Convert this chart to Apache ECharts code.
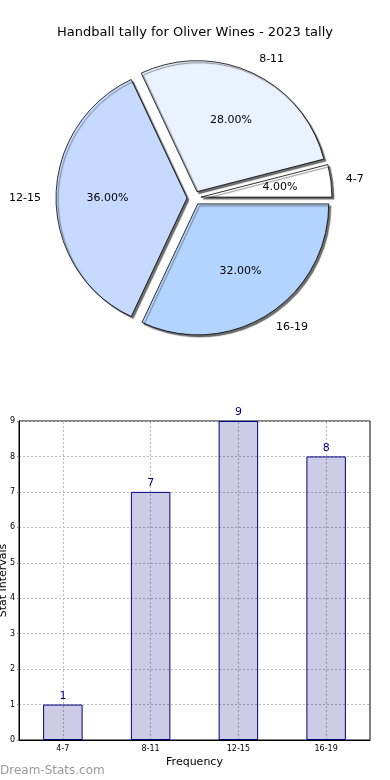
<!DOCTYPE html>
<html><head><meta charset="utf-8">
<script src="https://cdn.jsdelivr.net/npm/echarts@6/dist/echarts.min.js"></script>
<style>html,body{margin:0;padding:0;background:#fff}#c{width:390px;height:780px}</style>
</head><body><div id="c"></div>
<script>
const categories = ['4-7', '8-11', '12-15', '16-19'];
const values = [1, 7, 9, 8];
const sliceColors = ['#ffffff', '#eaf2ff', '#c6d9ff', '#b3d4ff'];
const yTicks = [0, 1, 2, 3, 4, 5, 6, 7, 8, 9];
const titleText = 'Handball tally for Oliver Wines - 2023 tally';

const FONT = 'DejaVu Sans';
const chart = echarts.init(document.getElementById('c'), null, {renderer: 'canvas'});
const pieCenter = [194, 198];
const R = 131, EXPLODE = 7;

const pieData = categories.map((c, i) => ({name: c, value: values[i], selected: true,
  itemStyle: {color: sliceColors[i]}}));
const ringData = categories.map((c, i) => ({name: c, value: values[i]}));
const pctMid = R * 0.6 + EXPLODE - 2;

chart.setOption({
  animation: false,
  title: {text: titleText, left: 'center', top: 21,
    textStyle: {fontFamily: FONT, fontSize: 13, fontWeight: 'normal', color: '#000'}},
  graphic: [{type: 'text', left: 0, bottom: 3,
    style: {text: 'Dream-Stats.com', fill: '#999', font: '12px "DejaVu Sans"'}}],
  series: [
    {type: 'pie', center: pieCenter, radius: [0, R], startAngle: 0, clockwise: false,
     selectedMode: 'multiple', selectedOffset: EXPLODE, silent: true, avoidLabelOverlap: false,
     emphasis: {disabled: true},
     label: {show: true, position: 'outside', distanceToLabelLine: 0, fontFamily: FONT, fontSize: 11, color: '#000',
       formatter: p => p.name},
     labelLine: {show: false, length: 15, length2: 0},
     itemStyle: {borderColor: '#000', borderWidth: 0.8, shadowColor: 'rgba(60,60,60,0.75)',
       shadowOffsetX: 2, shadowOffsetY: 2, shadowBlur: 1},
     data: pieData},
    {type: 'pie', center: pieCenter, radius: [pctMid - 5, pctMid + 5], startAngle: 0, clockwise: false,
     silent: true, emphasis: {disabled: true}, labelLine: {show: false},
     itemStyle: {color: 'rgba(0,0,0,0)'},
     label: {show: true, position: 'inside', rotate: 0, fontFamily: FONT, fontSize: 11, color: '#000',
       formatter: p => p.percent.toFixed(2) + '%'},
     data: ringData},
    {type: 'bar', xAxisIndex: 0, yAxisIndex: 0, data: values, barWidth: '45%', z: 2,
     itemStyle: {color: 'rgba(0,0,128,0.2)', borderColor: '#000080', borderWidth: 1},
     label: {show: true, position: 'top', distance: 3, color: '#000080', fontFamily: FONT, fontSize: 11},
     markLine: {silent: true, z: 1, symbol: 'none', label: {show: false},
       lineStyle: {color: '#bbb', type: [2, 2], width: 1},
       data: categories.map(c => ({xAxis: c}))}}
  ],
  grid: {left: 19, right: 20, top: 421, bottom: 40, show: true, borderColor: '#000', borderWidth: 1,
    outerBoundsMode: 'none', containLabel: false},
  xAxis: {type: 'category', data: categories,
    name: 'Frequency', nameLocation: 'middle', nameGap: 17,
    nameTextStyle: {fontFamily: FONT, fontSize: 11, color: '#000'},
    axisLine: {lineStyle: {color: '#000'}}, axisTick: {show: false},
    axisLabel: {fontFamily: FONT, fontSize: 8, color: '#000', margin: 5},
    splitLine: {show: false}},
  yAxis: {type: 'value', min: 0, max: 9, interval: 1,
    name: 'Stat Intervals', nameLocation: 'middle', nameGap: 10, nameMoveOverlap: false,
    nameTextStyle: {fontFamily: FONT, fontSize: 11, color: '#000'},
    axisLine: {show: true, lineStyle: {color: '#000'}},
    axisTick: {show: true, length: 2, lineStyle: {color: '#888'}},
    axisLabel: {fontFamily: FONT, fontSize: 8, color: '#000', margin: 4,
      formatter: v => yTicks.includes(v) ? String(v) : ''},
    splitLine: {show: true, lineStyle: {color: '#bbb', type: [2, 2]}}}
});
</script></body></html>
